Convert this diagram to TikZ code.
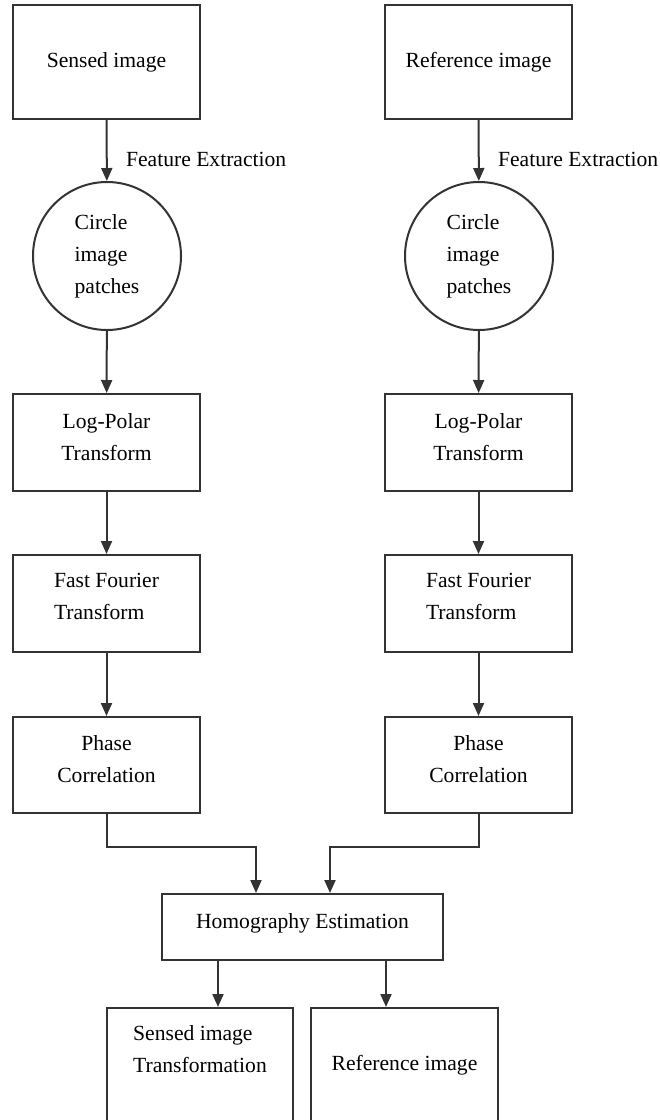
\documentclass[tikz,border=0pt]{standalone}
\usepackage{fontspec}
\setmainfont{Liberation Serif}
\usetikzlibrary{arrows.meta}

\begin{document}
\begin{tikzpicture}[x=1pt, y=-1pt, line width=2pt,
		every node/.style={font=\fontsize{21.6}{32}\selectfont, text=black},
		box/.style={draw=black!80, rectangle, minimum width=187pt, minimum height=97pt, align=center, inner sep=0pt},
		tallbox/.style={box, minimum height=114pt},
		patch/.style={draw=black!80, circle, minimum size=148pt, align=left, inner sep=0pt},
		arr/.style={draw=black!80, -{Triangle[width=11pt,length=13pt]}}]
		\useasboundingbox (0, 0) rectangle (660, 1120);
		% two input columns
		\node[tallbox] (sensed) at (106.5, 62) {Sensed image};
		\node[tallbox] (refer) at (478.5, 62) {Reference image};
		\node[patch] (circL) at (107, 256) {Circle\\image\\patches};
		\node[patch] (circR) at (479, 256) {Circle\\image\\patches};
		\node[box] (logL) at (106.5, 442.5) {Log-Polar\\Transform\\[-20pt]};
		\node[box] (logR) at (478.5, 442.5) {Log-Polar\\Transform\\[-20pt]};
		\node[box, align=left] (fftL) at (106.5, 603.5) {Fast Fourier\\Transform\\[-18pt]};
		\node[box, align=left] (fftR) at (478.5, 603.5) {Fast Fourier\\Transform\\[-18pt]};
		\node[box, minimum height=96pt] (phaseL) at (106.5, 765) {Phase\\Correlation\\[-20pt]};
		\node[box, minimum height=96pt] (phaseR) at (478.5, 765) {Phase\\Correlation\\[-20pt]};
		% merge and outputs
		\node[box, minimum width=281pt, minimum height=66pt] (homog) at (302.5, 927) {Homography Estimation\\[-20pt]};
		\node[tallbox, minimum width=186pt, align=left] (outS) at (200, 1065) {Sensed image\\Transformation\\~};
		\node[tallbox] (outR) at (404.5, 1065) {Reference image};
		% connectors
		\draw[arr] (sensed) -- (circL) node[pos=0.64, anchor=west, xshift=15pt] {Feature Extraction};
		\draw[arr] (refer) -- (circR) node[pos=0.64, anchor=west, xshift=15pt] {Feature Extraction};
		\draw[arr] (circL) -- (logL);
		\draw[arr] (circR) -- (logR);
		\draw[arr] (logL) -- (fftL);
		\draw[arr] (logR) -- (fftR);
		\draw[arr] (fftL) -- (phaseL);
		\draw[arr] (fftR) -- (phaseR);
		\draw[arr] (phaseL.south) -- ++(0, 33) -| ([xshift=-46.5pt]homog.north);
		\draw[arr] (phaseR.south) -- ++(0, 33) -| ([xshift=27.5pt]homog.north);
		\draw[arr] ([xshift=-84.5pt]homog.south) -- ([xshift=18pt]outS.north);
		\draw[arr] ([xshift=83.5pt]homog.south) -- ([xshift=-18.5pt]outR.north);
		\end{tikzpicture}
\end{document}
